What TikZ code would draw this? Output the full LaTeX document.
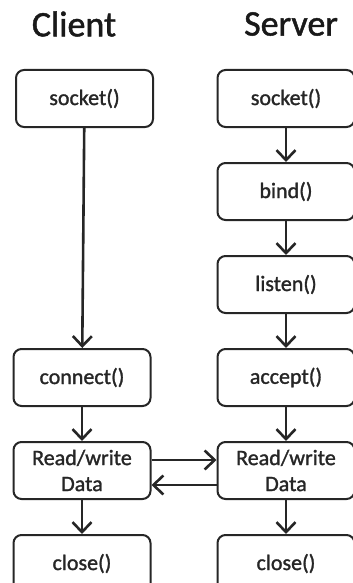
\documentclass[tikz,border=0pt]{standalone}
\usepackage{fontspec}
\setmainfont{Carlito}[RawFeature={embolden=1.3}]
\usepackage{tikz}
\usetikzlibrary{positioning,arrows.meta}

\begin{document}
\begin{tikzpicture}[x=1pt,y=1pt]
	\tikzset{call/.style={draw=black!85,rounded corners=8pt,line width=2pt,minimum width=137pt,minimum height=57pt,align=center,text=black!85,font=\fontsize{22}{26}\selectfont}}
	\tikzstyle{flow}=[-{Straight Barb[length=10pt,width=19pt]},line width=2.6pt,black!85]
	\tikzstyle{side}=[text=black!90,font=\fontsize{36}{40}\selectfont]
	\useasboundingbox (0,0) rectangle (353,-583);

	%% Titles
	\node [side] (client) at (74,-24) {Client};
	\node [side] (server) at (291,-24) {Server};

	%% Server calls
	\begin{scope}[node distance=34pt]
	    \node [call] (ssocket) at (286,-98.5) {socket()};
	    \node [call,below=of ssocket] (bind) {bind()};
	    \node [call,below=of bind] (listen) {listen()};
	    \node [call,below=of listen] (accept) {accept()};
	    \node [call,below=of accept] (srw) {Read/write\\Data};
	    \node [call,below=of srw] (sclose) {close()};
	\end{scope}

	%% Client calls
	\node [call] (csocket) at (84.5,-98.5) {socket()};
	\node [call,left=65pt of accept] (connect) {connect()};
	\node [call,left=65pt of srw] (crw) {Read/write\\Data};
	\node [call,left=65pt of sclose] (cclose) {close()};

	%% Arrows
	\draw [flow] (ssocket) -- (bind);
	\draw [flow] (bind) -- (listen);
	\draw [flow] (listen) -- (accept);
	\draw [flow] (accept) -- (srw);
	\draw [flow] (srw) -- (sclose);
	\draw [flow] (csocket) -- (connect);
	\draw [flow] (connect) -- (crw);
	\draw [flow] (crw) -- (cclose);
	\draw [flow] ([yshift=10.5pt]crw.east) -- ([yshift=10.5pt]srw.west);
	\draw [flow] ([yshift=-14.5pt]srw.west) -- ([yshift=-14.5pt]crw.east);
\end{tikzpicture}
\end{document}
